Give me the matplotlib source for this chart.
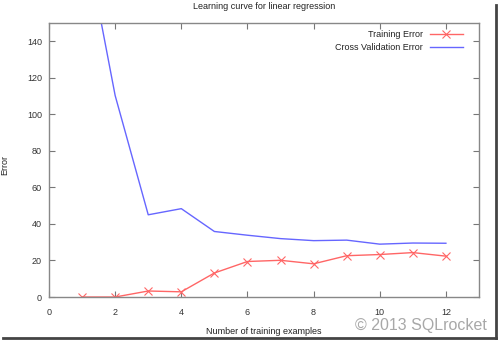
import matplotlib
matplotlib.use("Agg")
import matplotlib.pyplot as plt
from matplotlib.lines import Line2D

plt.rcParams['font.family'] = ['Liberation Sans', 'DejaVu Sans']

# Learning curve data
m_examples = [1, 2, 3, 4, 5, 6, 7, 8, 9, 10, 11, 12]
train_error = [0.00, 0.00, 3.29, 2.84, 13.15, 19.44, 20.10, 18.17, 22.61, 23.26, 24.32, 22.37]
cv_error = [205.12, 110.30, 45.01, 48.37, 35.87, 33.83, 31.97, 30.86, 31.14, 28.94, 29.55, 29.43]
x_ticks = [0, 2, 4, 6, 8, 10, 12]
y_ticks = [0, 20, 40, 60, 80, 100, 120, 140]

fig = plt.figure(figsize=(5.0, 3.41), dpi=100)
fig.patch.set_facecolor('white')
ax = fig.add_axes([0.098, 0.129, 0.86, 0.8035])

ax.plot(m_examples, train_error, color='#ff6666', lw=1.0, marker='x',
        markersize=5.5, markeredgewidth=0.8, label='Training Error')
ax.plot(m_examples, cv_error, color='#6666ff', lw=1.0,
        label='Cross Validation Error')

ax.set_xlim(0, 13)
ax.set_ylim(0, 150)
ax.set_xticks(x_ticks)
ax.set_yticks(y_ticks)
ax.tick_params(direction='in', length=4, width=0.8, color='#777777',
               labelsize=6.5, labelcolor='#333333', top=True, right=True,
               pad=8)
ax.tick_params(axis='y', pad=5)
for s in ax.spines.values():
    s.set_color('#888888')
    s.set_linewidth(1.0)

ax.set_title('Learning curve for linear regression', fontsize=6.5,
             color='#222222', pad=10)
ax.set_xlabel('Number of training examples', fontsize=6.5, color='#222222')
ax.set_ylabel('Error', fontsize=6.5, color='#222222')
ax.xaxis.set_label_coords(0.5, -0.108)
ax.yaxis.set_label_coords(-0.093, 0.48)

leg = ax.legend(loc='upper right', frameon=False, fontsize=6.5,
                markerfirst=False, handlelength=3.7, borderaxespad=0.4,
                labelspacing=0.45, bbox_to_anchor=(0.98, 1.0))
for t in leg.get_texts():
    t.set_color('#222222')

# watermark
fig.text(0.974, 0.044, '\u00a9 2013 SQLrocket', fontsize=11.5, color='#a8a8a8',
         ha='right', va='center')

# screenshot frame shadow
fig.add_artist(Line2D([0.992, 0.992], [0.01, 0.985], transform=fig.transFigure,
                      color='#444444', lw=2.0))
fig.add_artist(Line2D([0.006, 0.992], [0.009, 0.009], transform=fig.transFigure,
                      color='#444444', lw=2.0))

fig.savefig('out.png', dpi=100)
